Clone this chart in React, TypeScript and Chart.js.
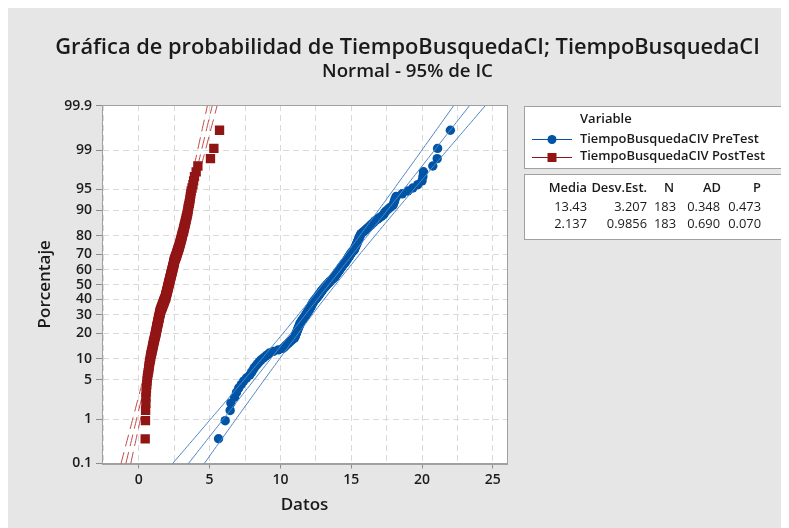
import React, { useEffect, useRef } from 'react';
import { Chart, registerables } from 'chart.js';

Chart.register(...registerables);

const FONT = "'Open Sans', 'Noto Sans', sans-serif";

const TITLE = 'Gráfica de probabilidad de TiempoBusquedaCI; TiempoBusquedaCI';
const SUBTITLE = 'Normal - 95% de IC';
const X_TITLE = 'Datos';
const Y_TITLE = 'Porcentaje';
const LEGEND_TITLE = 'Variable';
const PRE_LABEL = 'TiempoBusquedaCIV PreTest';
const POST_LABEL = 'TiempoBusquedaCIV PostTest';

const X_TICKS = [-2.5, 0, 2.5, 5, 7.5, 10, 12.5, 15, 17.5, 20, 22.5, 25];
const Y_TICK_PCT = [0.1, 1, 5, 10, 20, 30, 40, 50, 60, 70, 80, 90, 95, 99, 99.9];
const Y_TICK_LABELS = ['0.1', '1', '5', '10', '20', '30', '40', '50', '60', '70', '80', '90', '95', '99', '99.9'];

const STAT_HEADERS = ['Media', 'Desv.Est.', 'N', 'AD', 'P'];
const PRE_STATS = ['13.43', '3.207', '183', '0.348', '0.473'];
const POST_STATS = ['2.137', '0.9856', '183', '0.690', '0.070'];

const PRE_MEAN = 13.43;
const PRE_SD = 3.207;
const POST_MEAN = 2.137;
const POST_SD = 0.9856;
const N = 183;

// Sorted observations, PreTest (blue)
const PRE_X = [
  5.63, 6.1, 6.45, 6.5, 6.76,
  6.9, 7.05, 7.23,
  7.4, 7.6, 7.82,
  7.95, 8.05, 8.15, 8.27, 8.4, 8.52, 8.64,
  8.8, 8.95, 9.1, 9.23,
  9.5, 9.85, 10.17,
  10.28, 10.38, 10.48, 10.58, 10.68, 10.78, 10.88, 11.0,
  11.03, 11.06, 11.09, 11.12, 11.15, 11.18, 11.21, 11.24, 11.27, 11.3, 11.33, 11.36, 11.39, 11.42, 11.46, 11.5, 11.55, 11.6, 11.65,
  11.7, 11.74, 11.78, 11.82, 11.86, 11.9, 11.94, 11.98, 12.02, 12.06, 12.1, 12.13, 12.16, 12.19, 12.22, 12.25, 12.28, 12.32, 12.36, 12.4,
  12.45, 12.5, 12.55, 12.6, 12.64, 12.68, 12.72, 12.76, 12.8, 12.84, 12.88, 12.92, 12.96, 13.0, 13.05, 13.1,
  13.15, 13.2, 13.25, 13.3, 13.35, 13.4, 13.45, 13.5, 13.56, 13.62, 13.68, 13.74, 13.8,
  13.84, 13.88, 13.92, 13.96, 14.0, 14.04, 14.08, 14.12, 14.16, 14.2, 14.24, 14.28, 14.32, 14.36, 14.4, 14.45, 14.5,
  14.55, 14.6, 14.64, 14.68, 14.72, 14.76, 14.8, 14.84, 14.88, 14.92, 14.96, 15.0, 15.05, 15.1, 15.2,
  15.22, 15.25, 15.28, 15.31, 15.34, 15.37, 15.4, 15.43, 15.46, 15.49, 15.52, 15.55, 15.58, 15.62, 15.66, 15.7,
  15.8, 15.9, 16.0, 16.1, 16.2, 16.3, 16.4, 16.5, 16.6, 16.7, 16.85, 17.0,
  17.15, 17.3, 17.35, 17.45, 17.6, 17.75, 17.94,
  18.0, 18.05, 18.1, 18.18,
  18.6, 19.0, 19.35,
  19.7, 20.0, 20.06, 20.1,
  20.76, 21.07, 21.1, 22.0,
];

// Sorted observations, PostTest (red)
const POST_X = [
  0.45, 0.47, 0.48,
  0.5, 0.5, 0.52, 0.54,
  0.56, 0.58, 0.6, 0.63, 0.66, 0.69,
  0.71, 0.73, 0.75, 0.77, 0.8, 0.82, 0.84, 0.86, 0.89, 0.92,
  0.94, 0.96, 0.98, 1.0, 1.02, 1.04, 1.06, 1.08, 1.1, 1.12, 1.14, 1.16, 1.18, 1.2, 1.21, 1.23,
  1.24, 1.26, 1.27, 1.29, 1.3, 1.32, 1.33, 1.35, 1.36, 1.38, 1.39, 1.41, 1.42, 1.44, 1.45, 1.46, 1.47, 1.49, 1.5, 1.52, 1.53,
  1.55, 1.58, 1.6, 1.62, 1.65, 1.67, 1.69, 1.71, 1.74, 1.76, 1.78, 1.8, 1.82, 1.84, 1.87, 1.89,
  1.9, 1.91, 1.93, 1.94, 1.96, 1.97, 1.98, 2.0, 2.01, 2.03, 2.04, 2.05, 2.07, 2.08, 2.09, 2.11, 2.12,
  2.13, 2.15, 2.16, 2.18, 2.19, 2.2, 2.22, 2.23, 2.25, 2.26, 2.27, 2.29, 2.3, 2.32, 2.33, 2.34, 2.36, 2.37, 2.39, 2.4, 2.41, 2.43, 2.44, 2.46, 2.47, 2.48, 2.5, 2.51, 2.52,
  2.54, 2.57, 2.59, 2.61, 2.64, 2.66, 2.68, 2.7, 2.72, 2.74, 2.76, 2.78, 2.81, 2.83,
  2.85, 2.87, 2.89, 2.91, 2.93, 2.95, 2.97, 2.99, 3.01, 3.03, 3.05, 3.07, 3.09, 3.11, 3.14, 3.16,
  3.18, 3.2, 3.22, 3.25, 3.27, 3.29, 3.32, 3.34, 3.36, 3.39, 3.41, 3.44, 3.46,
  3.48, 3.5, 3.53, 3.56, 3.59, 3.62, 3.64, 3.67, 3.7,
  3.76, 3.82, 3.87, 3.93,
  4.05, 4.17,
  5.06, 5.3, 5.7,
];

const BLUE = '#0054a6';
const BLUE_LINE = '#4f86c6';
const RED = '#921515';
const RED_LINE = '#c24a4a';

// inverse standard normal CDF (probability scale transform)
function probit(p: number): number {
  const a = [-3.969683028665376e1, 2.209460984245205e2, -2.759285104469687e2, 1.38357751867269e2, -3.066479806614716e1, 2.506628277459239];
  const b = [-5.447609879822406e1, 1.615858368580409e2, -1.556989798598866e2, 6.680131188771972e1, -1.328068155288572e1];
  const c = [-7.784894002430293e-3, -3.223964580411365e-1, -2.400758277161838, -2.549671669203142, 4.374664141464968, 2.938163982698783];
  const d = [7.784695709041462e-3, 3.224671290700398e-1, 2.445134137142996, 3.754408661907416];
  const plow = 0.02425;
  if (p < plow) {
    const q = Math.sqrt(-2 * Math.log(p));
    return (((((c[0] * q + c[1]) * q + c[2]) * q + c[3]) * q + c[4]) * q + c[5]) / ((((d[0] * q + d[1]) * q + d[2]) * q + d[3]) * q + 1);
  }
  if (p > 1 - plow) {
    const q = Math.sqrt(-2 * Math.log(1 - p));
    return -(((((c[0] * q + c[1]) * q + c[2]) * q + c[3]) * q + c[4]) * q + c[5]) / ((((d[0] * q + d[1]) * q + d[2]) * q + d[3]) * q + 1);
  }
  const q = p - 0.5;
  const r = q * q;
  return ((((((a[0] * r + a[1]) * r + a[2]) * r + a[3]) * r + a[4]) * r + a[5]) * q) / (((((b[0] * r + b[1]) * r + b[2]) * r + b[3]) * r + b[4]) * r + 1);
}

function points(xs: number[]) {
  const n = xs.length;
  return xs.map((x, i) => ({ x, y: probit((i + 1 - 0.3) / (n + 0.4)) }));
}

function fitBand(mu: number, sd: number, n: number, k: number) {
  const out: { x: number; y: number }[] = [];
  for (let j = 0; j <= 136; j++) {
    const z = -3.4 + j * 0.05;
    const h = 1.96 * sd * Math.sqrt(1 / n + (z * z) / (2 * n));
    out.push({ x: mu + sd * z + k * h, y: z });
  }
  return out;
}

function lineDs(data: any[], color: string, order: number, dash: number[] = []) {
  return {
    data,
    showLine: true,
    pointRadius: 0,
    pointHoverRadius: 0,
    borderWidth: 1,
    borderColor: color,
    borderDash: dash,
    backgroundColor: color,
    fill: false,
    tension: 0,
    order,
  };
}

const bgPlugin = {
  id: 'bgPlugin',
  beforeDraw(chart: any) {
    const { ctx, chartArea } = chart;
    ctx.save();
    ctx.fillStyle = '#e6e6e6';
    ctx.fillRect(0, 0, chart.width, chart.height);
    ctx.fillStyle = '#ffffff';
    ctx.fillRect(chartArea.left, chartArea.top, chartArea.right - chartArea.left, chartArea.bottom - chartArea.top);
    ctx.restore();
  },
  afterDraw(chart: any) {
    const { ctx, chartArea } = chart;
    ctx.save();
    // plot frame
    ctx.strokeStyle = '#a0a0a0';
    ctx.lineWidth = 1;
    ctx.strokeRect(Math.round(chartArea.left) + 0.5, Math.round(chartArea.top) + 0.5, Math.round(chartArea.right - chartArea.left), Math.round(chartArea.bottom - chartArea.top));

    const fitFont = (s: string, weight: string, target: number) => {
      ctx.font = `${weight} 20px ${FONT}`;
      const w = ctx.measureText(s).width;
      const size = (20 * target) / w;
      return `${weight} ${size.toFixed(2)}px ${FONT}`;
    };

    // titles
    ctx.fillStyle = '#1a1a1a';
    ctx.textAlign = 'center';
    ctx.textBaseline = 'middle';
    ctx.font = fitFont(TITLE, '600', 705);
    ctx.fillText(TITLE, 399.5, 40);
    ctx.font = fitFont(SUBTITLE, '600', 171);
    ctx.fillText(SUBTITLE, 399.5, 64);

    // legend box
    ctx.fillStyle = '#ffffff';
    ctx.strokeStyle = '#a0a0a0';
    ctx.fillRect(516.5, 98.5, 261, 62);
    ctx.strokeRect(516.5, 98.5, 261, 62);
    ctx.fillRect(516.5, 166.5, 261, 65);
    ctx.strokeRect(516.5, 166.5, 261, 65);

    ctx.fillStyle = '#1a1a1a';
    ctx.textAlign = 'left';
    ctx.font = `600 13px ${FONT}`;
    ctx.fillText(LEGEND_TITLE, 572, 111);
    const entryFont = fitFont(PRE_LABEL, '600', 179);
    ctx.font = entryFont;
    ctx.fillText(PRE_LABEL, 572, 131);
    ctx.fillText(POST_LABEL, 572, 148.5);

    // legend markers
    ctx.lineWidth = 1;
    ctx.strokeStyle = BLUE;
    ctx.beginPath();
    ctx.moveTo(524, 131.5);
    ctx.lineTo(564, 131.5);
    ctx.stroke();
    ctx.fillStyle = BLUE;
    ctx.beginPath();
    ctx.arc(544, 131.5, 4.5, 0, Math.PI * 2);
    ctx.fill();
    ctx.strokeStyle = RED;
    ctx.beginPath();
    ctx.moveTo(524, 149.5);
    ctx.lineTo(564, 149.5);
    ctx.stroke();
    ctx.fillStyle = RED;
    ctx.fillRect(539.5, 145, 9, 9);

    // stats table
    ctx.fillStyle = '#1a1a1a';
    ctx.textAlign = 'right';
    ctx.font = entryFont;
    const colRight = [579, 639, 666, 713, 753];
    STAT_HEADERS.forEach((h, i) => ctx.fillText(h, colRight[i], 180.5));
    ctx.font = entryFont.replace('600', '400');
    const dataRight = [579, 639, 668, 712, 753];
    PRE_STATS.forEach((s, i) => ctx.fillText(s, dataRight[i], 199.5));
    POST_STATS.forEach((s, i) => ctx.fillText(s, dataRight[i], 216.5));
    ctx.restore();
  },
};

export default function App() {
  const ref = useRef<HTMLCanvasElement | null>(null);
  useEffect(() => {
    if (!ref.current) return;
    const tickFont = { family: FONT, size: 14, weight: '600' as any };
    const titleFont = { family: FONT, size: 17, weight: '600' as any };
    const chart = new Chart(ref.current, {
      type: 'scatter',
      data: {
        datasets: [
          lineDs(fitBand(PRE_MEAN, PRE_SD, N, -1), BLUE_LINE, 0),
          lineDs(fitBand(PRE_MEAN, PRE_SD, N, 0), BLUE_LINE, 0),
          lineDs(fitBand(PRE_MEAN, PRE_SD, N, 1), BLUE_LINE, 0),
          {
            label: 'PreTest',
            data: points(PRE_X),
            pointStyle: 'circle',
            pointRadius: 4.7,
            pointBackgroundColor: BLUE,
            pointBorderColor: BLUE,
            pointBorderWidth: 0,
            showLine: false,
            order: 1,
          } as any,
          {
            label: 'PostTest',
            data: points(POST_X),
            pointStyle: 'rect',
            pointRadius: 6.6,
            pointBackgroundColor: RED,
            pointBorderColor: RED,
            pointBorderWidth: 0,
            showLine: false,
            order: 2,
          } as any,
          lineDs(fitBand(POST_MEAN, POST_SD, N, -1), RED_LINE, 3, [12, 6]),
          lineDs(fitBand(POST_MEAN, POST_SD, N, 0), RED_LINE, 3, [12, 6]),
          lineDs(fitBand(POST_MEAN, POST_SD, N, 1), RED_LINE, 3, [12, 6]),
        ] as any,
      },
      options: {
        animation: false,
        responsive: false,
        maintainAspectRatio: false,
        events: [],
        layout: { padding: { left: 0, top: 97, right: 282, bottom: 0 } },
        plugins: {
          legend: { display: false },
          tooltip: { enabled: false },
          title: { display: false },
        },
        scales: {
          x: {
            type: 'linear',
            min: -2.6,
            max: 26,
            afterBuildTicks: (s: any) => {
              s.ticks = X_TICKS.map((v) => ({ value: v }));
            },
            afterFit: (s: any) => {
              s.height = 64.5;
            },
            ticks: {
              autoSkip: false,
              maxRotation: 0,
              padding: 3,
              color: '#1c1c1c',
              font: tickFont,
              callback: (v: any) => (Number(v) % 5 === 0 ? String(v) : ''),
            },
            grid: {
              color: '#dadada',
              lineWidth: 1,
              tickLength: 5,
              tickColor: (c: any) => (c.tick && c.tick.value % 5 === 0 ? '#8c8c8c' : 'rgba(0,0,0,0)'),
            },
            border: { display: true, color: '#a0a0a0', dash: [6, 4] },
            title: { display: true, text: X_TITLE, color: '#1a1a1a', font: titleFont, padding: { top: 0, bottom: 13 } },
          },
          y: {
            type: 'linear',
            min: -3.095,
            max: 3.105,
            afterBuildTicks: (s: any) => {
              s.ticks = Y_TICK_PCT.map((p) => ({ value: probit(p / 100) }));
            },
            afterFit: (s: any) => {
              s.width = 94;
            },
            ticks: {
              autoSkip: false,
              padding: 4,
              color: '#1c1c1c',
              font: tickFont,
              callback: (_v: any, i: number) => Y_TICK_LABELS[i],
            },
            grid: {
              color: '#dadada',
              lineWidth: 1,
              tickLength: 6,
              tickColor: '#8c8c8c',
            },
            border: { display: true, color: '#a0a0a0', dash: [6, 4] },
            title: { display: true, text: Y_TITLE, color: '#1a1a1a', font: titleFont, padding: { top: 27, bottom: 0 } },
          },
        },
      } as any,
      plugins: [bgPlugin],
    });
    return () => chart.destroy();
  }, []);
  return (
    <div style={{ width: 781, height: 520 }}>
      <canvas ref={ref} width={781} height={520} style={{ display: 'block', width: 781, height: 520 }} />
    </div>
  );
}
